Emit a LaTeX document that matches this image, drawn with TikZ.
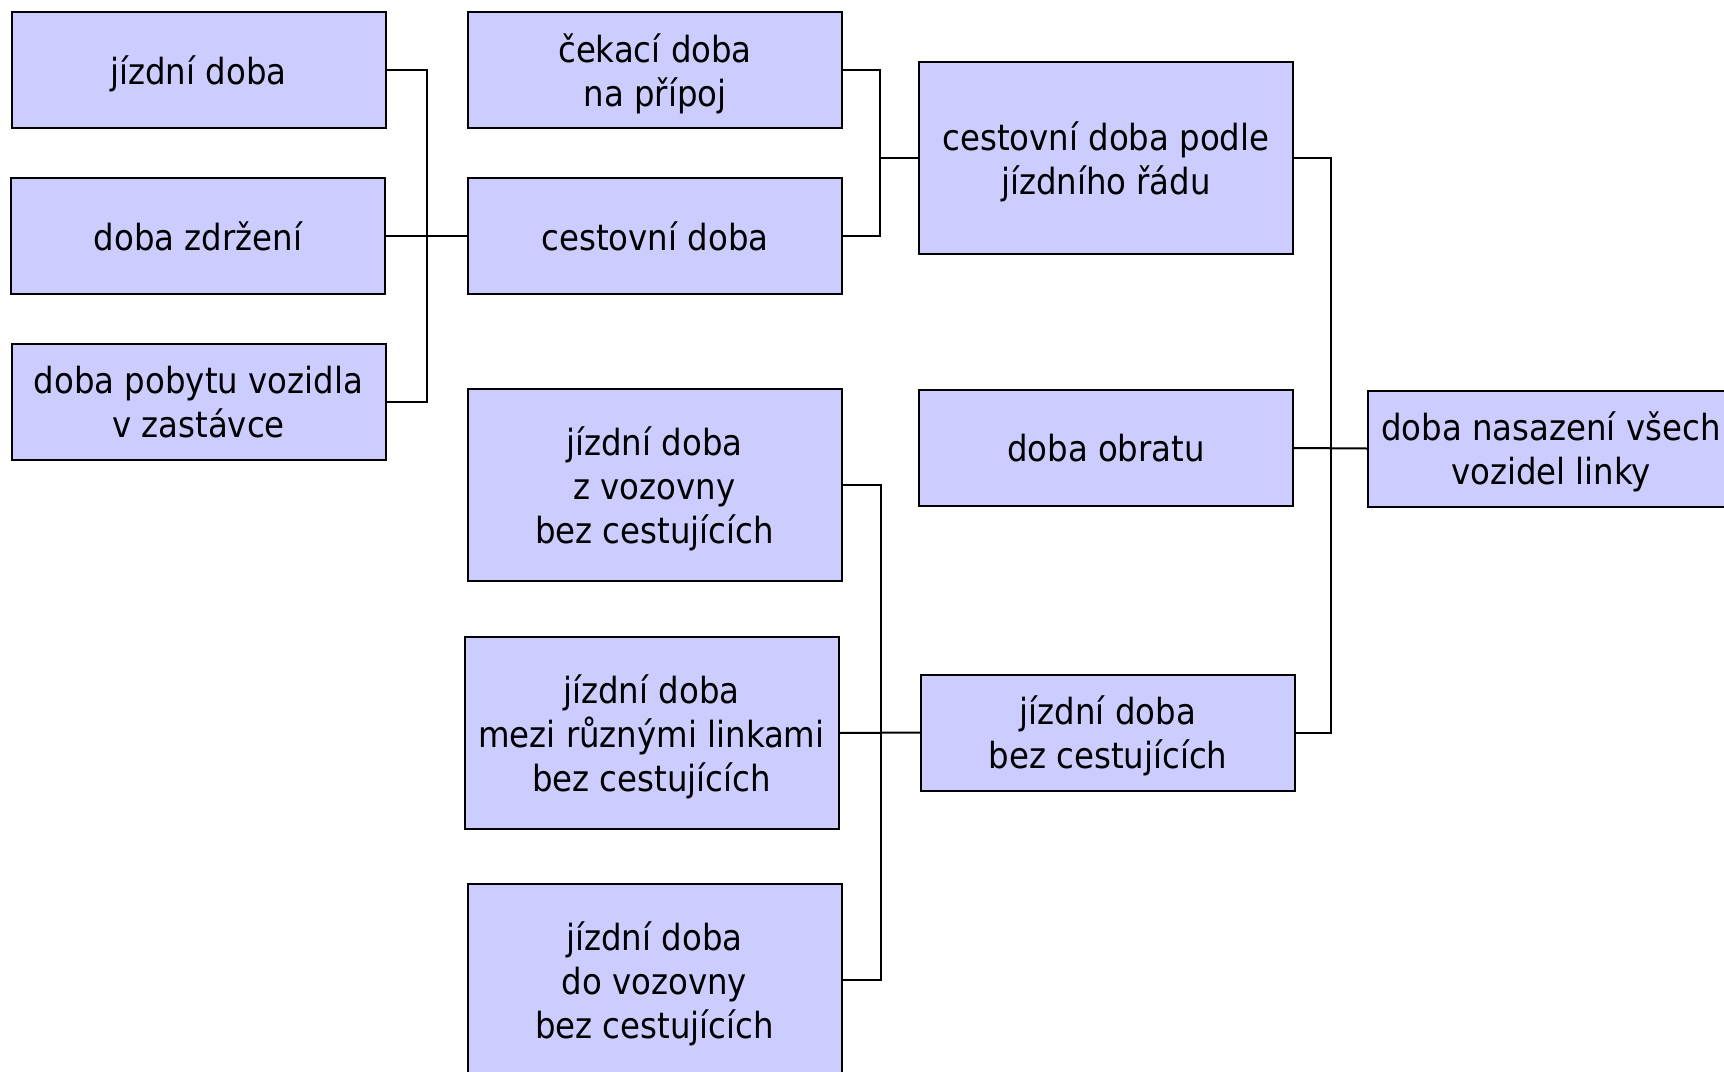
\documentclass[tikz,border=0pt]{standalone}
\usepackage{fontspec}
\setmainfont{DejaVu Sans Condensed}
\usepackage{xcolor}
\definecolor{boxfill}{HTML}{CCCCFF}
\tikzset{
box/.style={draw=black, fill=boxfill, line width=2pt, minimum width=374pt, minimum height=116pt, align=center, inner sep=0pt, text depth=0pt, font=\fontsize{36}{44}\selectfont},
tall/.style={box, minimum height=192pt},
link/.style={line width=2pt}
}

\begin{document}
\begin{tikzpicture}[x=1pt, y=-1pt]
\useasboundingbox (0,0) rectangle (1724,1071);
\node[box] (jizda) at (198.5,70) {jízdní doba};
\node[box] (zdrz) at (198,236) {doba zdržení};
\node[box] (pobyt) at (198.5,402) {doba pobytu vozidla\\v zastávce};
\node[box] (cekani) at (655,70) {čekací doba\\na přípoj};
\node[box] (cesta) at (655,236) {cestovní doba};
\node[tall] (jrd) at (1106,158) {cestovní doba podle\\jízdního řádu};
\node[box] (obrat) at (1106,448) {doba obratu};
\node[box, minimum width=366pt] (nasaz) at (1551,448.5) {doba nasazení všech\\vozidel linky};
\node[tall] (zvoz) at (654.5,485) {jízdní doba\\z vozovny\\bez cestujících};
\node[tall] (mezi) at (651.5,733) {jízdní doba\\mezi různými linkami\\bez cestujících};
\node[tall] (dovoz) at (654.5,980) {jízdní doba\\do vozovny\\bez cestujících};
\node[box] (bezc) at (1108,732.5) {jízdní doba\\bez cestujících};
\coordinate (k1) at (427,0);
\coordinate (k2) at (880,0);
\coordinate (k3) at (881,0);
\coordinate (k4) at (1331,0);
\draw[link] (jizda.east) -| (k1 |- pobyt.east) -- (pobyt.east);
\draw[link] (zdrz.east) -- (cesta.west);
\draw[link] (cekani.east) -| (k2 |- cesta.east) -- (cesta.east);
\draw[link] (k2 |- jrd.west) -- (jrd.west);
\draw[link] (zvoz.east) -| (k3 |- dovoz.east) -- (dovoz.east);
\draw[link] (mezi.east) -- (bezc.west);
\draw[link] (jrd.east) -| (k4 |- bezc.east) -- (bezc.east);
\draw[link] (obrat.east) -- (nasaz.west);
\end{tikzpicture}
\end{document}
